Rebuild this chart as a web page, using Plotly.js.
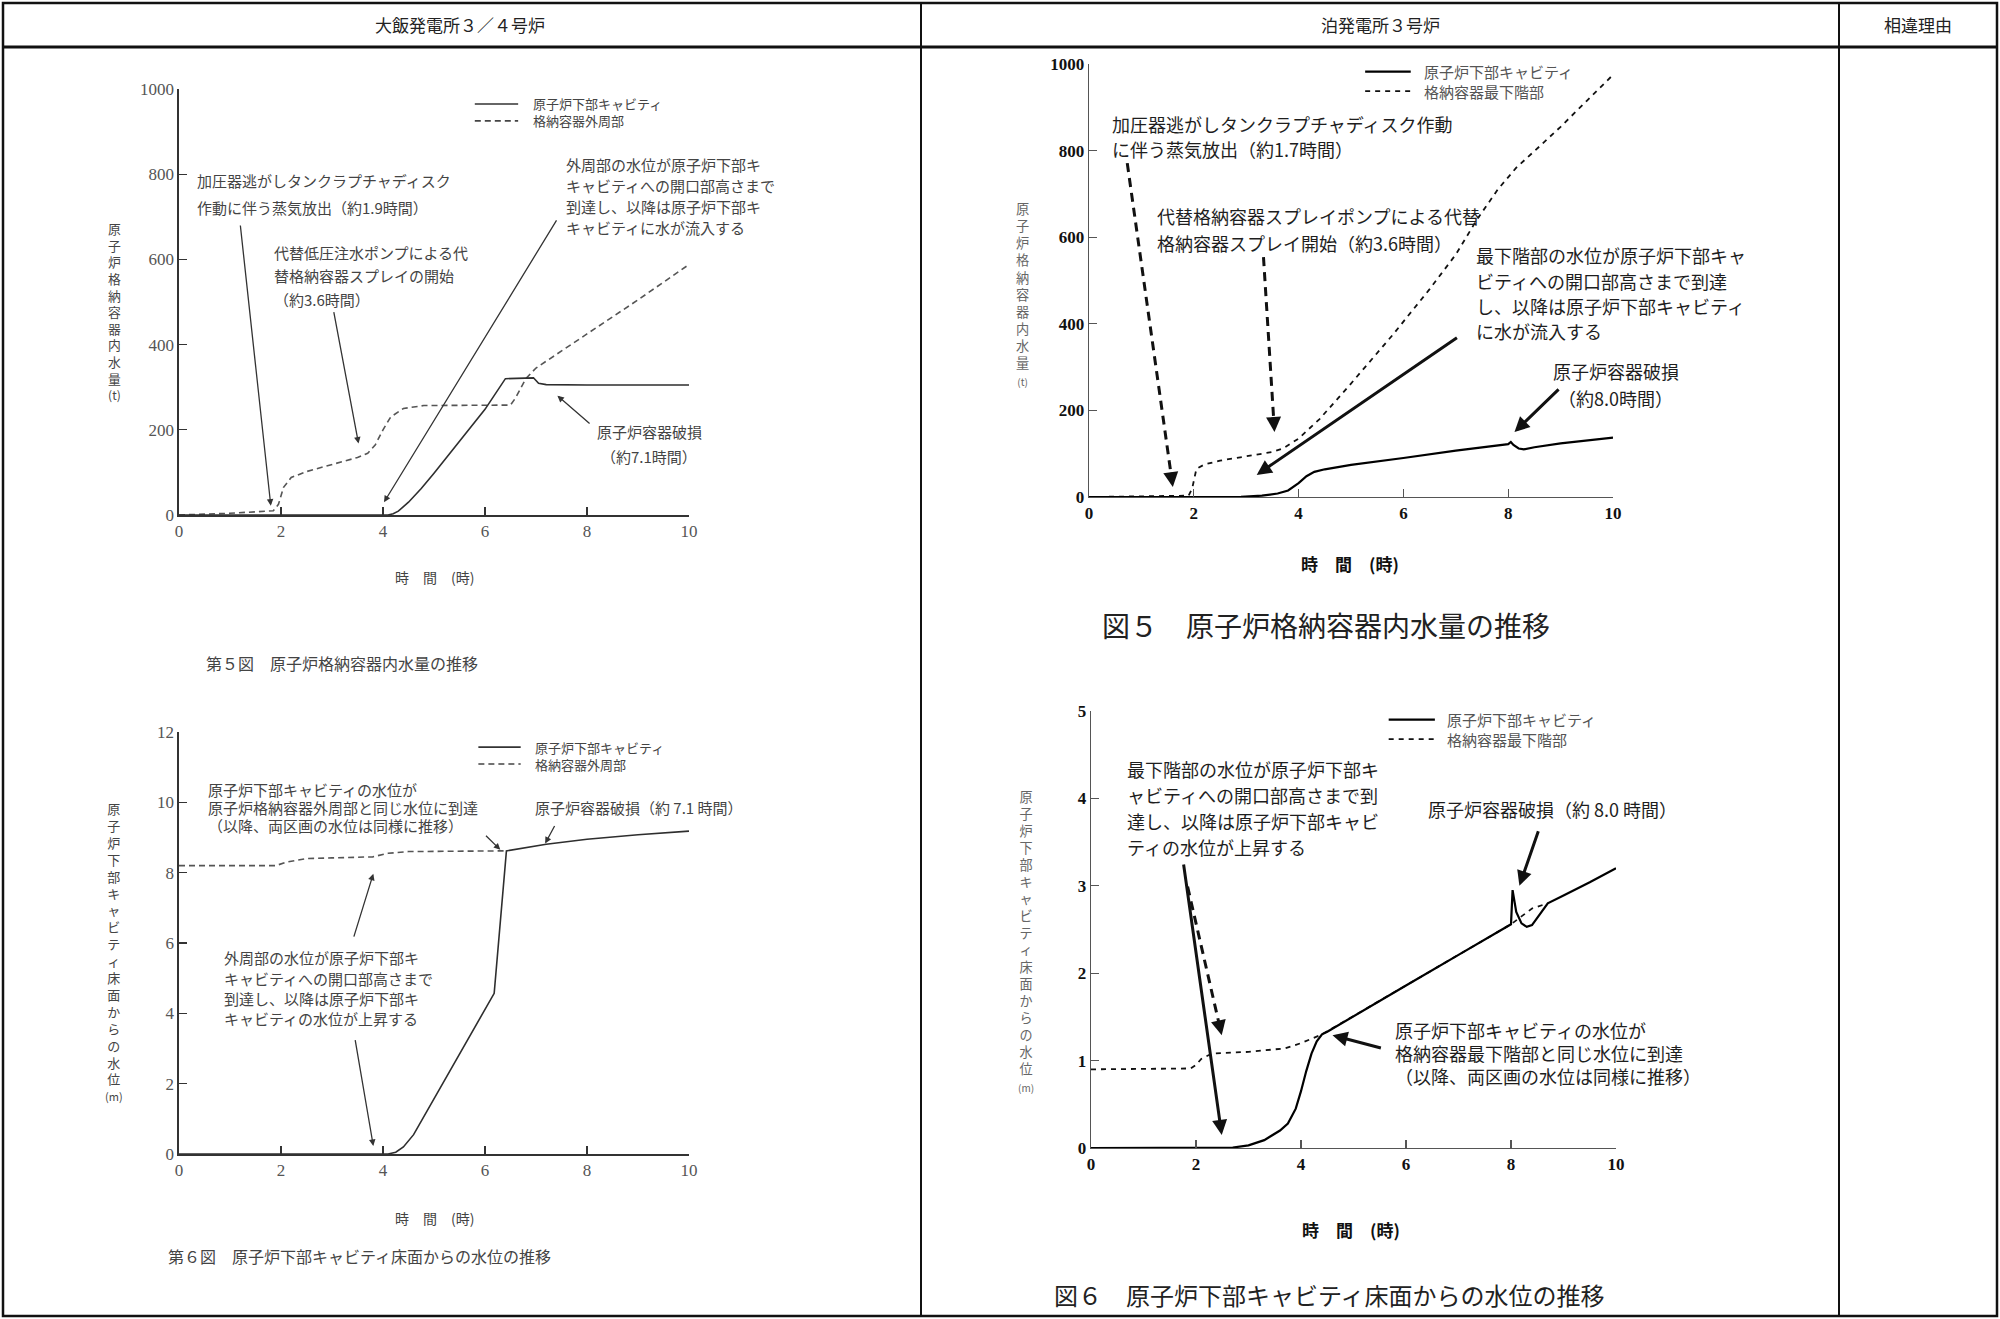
<!DOCTYPE html>
<html><head><meta charset="utf-8">
<script src="https://cdn.plot.ly/plotly-3.0.1.min.js"></script>
<style>html,body{margin:0;padding:0;background:#fff}#chart{width:2000px;height:1319px}</style>
</head><body><div id="chart"></div>
<script>
// ---------------- data ----------------
const xTicks = [0, 2, 4, 6, 8, 10];
const yTicksA = [0, 200, 400, 600, 800, 1000];
const yTicksB = [0, 200, 400, 600, 800, 1000];
const yTicksC = [0, 2, 4, 6, 8, 10, 12];
const yTicksD = [0, 1, 2, 3, 4, 5];

const seriesLeft = ['原子炉下部キャビティ', '格納容器外周部'];
const seriesRight = ['原子炉下部キャビティ', '格納容器最下階部'];

// 第5図 (大飯) 原子炉格納容器内水量 (t)
const tA_cav = [0, 4.1, 4.2, 4.3, 4.5, 4.75, 5.0, 5.5, 6.0, 6.4, 6.95, 7.05, 7.2, 8, 9, 10];
const vA_cav = [0, 0, 3, 9, 30, 62, 98, 172, 248, 320, 322, 309, 306, 305, 305, 305];
const tA_out = [0, 1.0, 1.85, 1.95, 2.05, 2.2, 2.5, 3.0, 3.5, 3.7, 3.85, 4.0, 4.15, 4.4, 4.8, 6.5, 6.6, 6.8, 7.0, 8, 9, 10];
const vA_out = [0, 4, 10, 25, 65, 88, 102, 118, 135, 145, 165, 200, 230, 250, 257, 258, 275, 320, 345, 425, 505, 588];

// 図5 (泊) 原子炉格納容器内水量 (t)
const tB_cav = [0, 2.9, 3.3, 3.6, 3.8, 4.0, 4.15, 4.3, 4.5, 5, 6, 7, 8, 8.05, 8.1, 8.2, 8.3, 8.5, 9, 9.5, 10];
const vB_cav = [0, 0.5, 3, 8, 15, 32, 48, 58, 64, 74, 90, 107, 122, 127, 120, 112, 110, 115, 124, 130, 137];
const tB_low = [0, 1.9, 1.97, 2.05, 2.2, 2.5, 3.0, 3.5, 3.7, 4.0, 4.4, 5.0, 5.8, 6.5, 7.0, 7.4, 7.8, 8.15, 8.6, 9.0, 9.5, 10];
const vB_low = [0, 3, 20, 65, 75, 84, 94, 104, 112, 135, 180, 262, 375, 480, 560, 640, 710, 760, 810, 855, 915, 975];

// 第6図 (大飯) 原子炉下部キャビティ床面からの水位 (m)
const tC_cav = [0, 4.1, 4.25, 4.4, 4.6, 5.0, 5.5, 6.0, 6.18, 6.42, 7.0, 7.2, 8, 9, 10];
const vC_cav = [0, 0, 0.05, 0.2, 0.55, 1.57, 2.84, 4.1, 4.57, 8.62, 8.76, 8.81, 8.95, 9.08, 9.18];
const tC_out = [0, 1.9, 2.1, 2.5, 3.0, 3.8, 4.1, 4.5, 6.42];
const vC_out = [8.2, 8.2, 8.3, 8.4, 8.42, 8.45, 8.55, 8.6, 8.62];

// 図6 (泊) 原子炉下部キャビティ床面からの水位 (m)
const tD_cav = [0, 2.5, 2.7, 3.0, 3.3, 3.6, 3.75, 3.9, 4.0, 4.1, 4.2, 4.3, 4.4, 4.5, 5, 6, 7, 8, 8.03, 8.06, 8.1, 8.2, 8.3, 8.4, 8.55, 8.7, 9, 9.5, 10];
const vD_cav = [0, 0, 0.005, 0.03, 0.09, 0.2, 0.28, 0.45, 0.65, 0.88, 1.08, 1.22, 1.3, 1.33, 1.51, 1.86, 2.21, 2.56, 2.95, 2.85, 2.7, 2.57, 2.53, 2.55, 2.68, 2.8, 2.89, 3.04, 3.2];
const tD_low = [0, 1.9, 2.0, 2.1, 2.3, 3.0, 3.7, 4.0, 4.4, 8.0, 8.2, 8.4, 8.7];
const vD_low = [0.9, 0.91, 0.95, 1.02, 1.08, 1.1, 1.14, 1.2, 1.3, 2.56, 2.65, 2.74, 2.8];

// ---------------- layout helpers ----------------
const W = 2000, H = 1319;
const FONT = '"Noto Sans CJK JP", "Noto Sans", sans-serif';
const SERIF = '"Liberation Serif", "DejaVu Serif", serif';
const PX = x => x / W, PY = y => 1 - y / H;

const dom = {
  A: {x0: 179, x1: 689, y0: 89, y1: 515, ymax: 1000, n: ''},
  B: {x0: 1089, x1: 1613, y0: 64, y1: 497, ymax: 1000, n: '2'},
  C: {x0: 179, x1: 689, y0: 732, y1: 1154, ymax: 12, n: '3'},
  D: {x0: 1091, x1: 1616, y0: 711, y1: 1148, ymax: 5, n: '4'}
};
const xr = k => 'x' + dom[k].n, yr = k => 'y' + dom[k].n;
const sx = k => (dom[k].x1 - dom[k].x0) / 10;
const sy = k => (dom[k].y1 - dom[k].y0) / dom[k].ymax;
// data position of a subplot -> paper position (texts may lie outside the plot area)
const toPX = (k, x) => PX(dom[k].x0 + x * sx(k));
const toPY = (k, y) => PY(dom[k].y1 - y * sy(k));

const LEFT_TXT = '#444', RIGHT_TXT = '#1e1e1e';

function axisPair(k, yt, left) {
  const d = dom[k];
  const common = {
    showline: true, showgrid: false, zeroline: false, ticks: 'inside', ticklen: 8,
    linecolor: left ? '#333' : '#555', linewidth: left ? 1.6 : 1.3,
    tickcolor: left ? '#333' : '#555', tickwidth: left ? 1.4 : 1.2,
    tickfont: left ? {family: SERIF, size: 17, color: '#555'} : {family: SERIF, size: 17, color: '#111', weight: 'bold'},
    fixedrange: true
  };
  const xa = Object.assign({}, common, {domain: [PX(d.x0), PX(d.x1)], range: [0, 10], tickvals: xTicks, anchor: yr(k)});
  const ya = Object.assign({}, common, {domain: [PY(d.y1), PY(d.y0)], range: [0, d.ymax], tickvals: yt, anchor: xr(k)});
  return [xa, ya];
}

function line(k, x, y, solid, left) {
  return {
    x, y, xaxis: xr(k), yaxis: yr(k), mode: 'lines', cliponaxis: false, showlegend: false, hoverinfo: 'skip',
    line: solid
      ? {color: left ? '#2e2e2e' : '#000', width: left ? 1.6 : 2.2}
      : {color: left ? '#555' : '#111', width: left ? 1.6 : 1.8, dash: left ? '6px,4px' : '5px,5px'}
  };
}

const ann = [];
const shapes = [];

function textLines(k, lines, x, yTop, dy, size, color, anchor) {
  lines.forEach((t, i) => ann.push({
    xref: 'paper', yref: 'paper', x: toPX(k, x), y: toPY(k, yTop - i * dy), text: t, showarrow: false,
    xanchor: anchor || 'left', align: anchor || 'left', yanchor: 'middle', font: {family: FONT, size, color}
  }));
}
// upright vertical axis title: one character per line, unit as a smaller last line
function vert(k, str, unit, unitSize, x, yMid, size, color) {
  let t = [...str].join('<br>');
  if (unit) t += '<br><span style="font-size:' + unitSize + 'px">' + unit + '</span>';
  ann.push({
    xref: 'paper', yref: 'paper', x: toPX(k, x), y: toPY(k, yMid), text: t, showarrow: false,
    xanchor: 'center', align: 'center', yanchor: 'middle', font: {family: FONT, size, color}
  });
}
function arrow(k, tail, head, width, color, size) {
  ann.push({
    xref: xr(k), yref: yr(k), axref: xr(k), ayref: yr(k), x: head[0], y: head[1], ax: tail[0], ay: tail[1],
    text: '', showarrow: true, arrowhead: 2, arrowsize: size || 1, arrowwidth: width, arrowcolor: color, standoff: 0, startstandoff: 0
  });
}
function dashedArrow(k, tail, head, width, color) {
  const dxp = (tail[0] - head[0]) * sx(k), dyp = -(tail[1] - head[1]) * sy(k);
  const L = Math.hypot(dxp, dyp), ux = dxp / L, uy = dyp / L;
  const back = 10;
  shapes.push({
    type: 'line', xref: xr(k), yref: yr(k), x0: tail[0], y0: tail[1],
    x1: head[0] + ux * back / sx(k), y1: head[1] - uy * back / sy(k),
    line: {color, width, dash: '9px,6px'}
  });
  ann.push({
    xref: xr(k), yref: yr(k), x: head[0], y: head[1], ax: ux * 16, ay: uy * 16,
    text: '', showarrow: true, arrowhead: 2, arrowsize: 1, arrowwidth: width, arrowcolor: color, standoff: 0
  });
}
// legend: two sample lines + one two-line text block
function legend(k, names, xs, yMid, size, xt, color, left) {
  const g = size * 1.3 / 2 / sy(k);
  shapes.push({type: 'line', xref: xr(k), yref: yr(k), x0: xs[0], x1: xs[1], y0: yMid + g, y1: yMid + g,
    line: {color: left ? '#333' : '#000', width: left ? 1.6 : 2.2}});
  shapes.push({type: 'line', xref: xr(k), yref: yr(k), x0: xs[0], x1: xs[1], y0: yMid - g, y1: yMid - g,
    line: {color: left ? '#444' : '#111', width: left ? 1.6 : 1.8, dash: left ? '6px,4px' : '5px,5px'}});
  textLines(k, [names[0] + '<br>' + names[1]], xt, yMid, 0, size, color);
}
function paperText(text, x, y, size, color, anchor) {
  ann.push({xref: 'paper', yref: 'paper', x: PX(x), y: PY(y), text, showarrow: false,
    xanchor: anchor || 'center', yanchor: 'middle', font: {family: FONT, size, color}});
}

// ---------------- table frame ----------------
shapes.push({type: 'rect', xref: 'paper', yref: 'paper', x0: PX(3), x1: PX(1997), y0: PY(1316), y1: PY(3), line: {color: '#111', width: 2.5}});
shapes.push({type: 'line', xref: 'paper', yref: 'paper', x0: PX(3), x1: PX(1997), y0: PY(47), y1: PY(47), line: {color: '#111', width: 3}});
shapes.push({type: 'line', xref: 'paper', yref: 'paper', x0: PX(921), x1: PX(921), y0: PY(3), y1: PY(1316), line: {color: '#111', width: 2}});
shapes.push({type: 'line', xref: 'paper', yref: 'paper', x0: PX(1839), x1: PX(1839), y0: PY(3), y1: PY(1316), line: {color: '#111', width: 2}});
paperText('大飯発電所３／４号炉', 460, 25, 17, '#222');
paperText('泊発電所３号炉', 1380, 25, 17, '#222');
paperText('相違理由', 1918, 25, 17, '#222');

// ---------------- chart A ----------------
legend('A', seriesLeft, [5.8, 6.65], 945, 13, 6.9, LEFT_TXT, true);
vert('A', '原子炉格納容器内水量', '(t)', 12, -1.27, 478, 12.8, LEFT_TXT);
textLines('A', ['時　間　(時)'], 5, -146, 0, 14, LEFT_TXT, 'center');
textLines('A', ['加圧器逃がしタンクラプチャディスク', '作動に伴う蒸気放出（約1.9時間）'], 0.32, 785, 63, 15, LEFT_TXT);
textLines('A', ['代替低圧注水ポンプによる代', '替格納容器スプレイの開始', '（約3.6時間）'], 1.82, 617, 55, 15, LEFT_TXT);
textLines('A', ['外周部の水位が原子炉下部キ', 'キャビティへの開口部高さまで', '到達し、以降は原子炉下部キ', 'キャビティに水が流入する'], 7.55, 822, 49, 15, LEFT_TXT);
textLines('A', ['原子炉容器破損', '（約7.1時間）'], 9.22, 196, 58, 15, LEFT_TXT, 'center');
arrow('A', [1.2, 683], [1.8, 22], 1.3, '#333');
arrow('A', [3.03, 480], [3.52, 168], 1.3, '#333');
arrow('A', [7.42, 695], [4.02, 30], 1.3, '#333');
arrow('A', [8.08, 212], [7.42, 280], 1.3, '#333');
paperText('第５図　原子炉格納容器内水量の推移', 204, 663, 16, LEFT_TXT, 'left');

// ---------------- chart B ----------------
legend('B', seriesRight, [5.27, 6.14], 960, 15, 6.35, '#555', false);
vert('B', '原子炉格納容器内水量', '(t)', 10, -1.26, 468, 13.2, '#666');
textLines('B', ['<b>時　間　(時)</b>'], 4.98, -153, 0, 17, '#111', 'center');
textLines('B', ['加圧器逃がしタンクラプチャディスク作動', 'に伴う蒸気放出（約1.7時間）'], 0.4, 862, 59, 18, RIGHT_TXT);
textLines('B', ['代替格納容器スプレイポンプによる代替', '格納容器スプレイ開始（約3.6時間）'], 1.25, 648, 61, 18, RIGHT_TXT);
textLines('B', ['最下階部の水位が原子炉下部キャ', 'ビティへの開口部高さまで到達', 'し、以降は原子炉下部キャビティ', 'に水が流入する'], 7.34, 558, 58, 18, RIGHT_TXT);
textLines('B', ['原子炉容器破損', '（約8.0時間）'], 10.05, 291, 62, 18, RIGHT_TXT, 'center');
dashedArrow('B', [0.73, 771], [1.6, 23], 3, '#111');
dashedArrow('B', [3.33, 554], [3.54, 150], 3, '#111');
arrow('B', [7.05, 370], [3.2, 51], 3, '#111');
arrow('B', [8.99, 252], [8.12, 150], 3, '#111');
paperText('図５　原子炉格納容器内水量の推移', 1100, 625, 28, '#222', 'left');

// ---------------- chart C ----------------
legend('C', seriesLeft, [5.87, 6.7], 11.33, 13, 6.94, LEFT_TXT, true);
vert('C', '原子炉下部キャビティ床面からの水位', '(m)', 11, -1.27, 5.77, 13, LEFT_TXT);
textLines('C', ['時　間　(時)'], 5, -1.82, 0, 14, LEFT_TXT, 'center');
textLines('C', ['原子炉下部キャビティの水位が', '原子炉格納容器外周部と同じ水位に到達', '（以降、両区画の水位は同様に推移）'], 0.52, 10.36, 0.515, 15, LEFT_TXT);
textLines('C', ['原子炉容器破損（約 7.1 時間）'], 6.94, 9.84, 0, 15, LEFT_TXT);
textLines('C', ['外周部の水位が原子炉下部キ', 'キャビティへの開口部高さまで', '到達し、以降は原子炉下部キ', 'キャビティの水位が上昇する'], 0.84, 5.58, 0.58, 15, LEFT_TXT);
arrow('C', [5.99, 9.09], [6.3, 8.65], 1.3, '#333');
arrow('C', [7.38, 9.37], [7.18, 8.83], 1.3, '#333');
arrow('C', [3.42, 6.14], [3.81, 7.97], 1.3, '#333');
arrow('C', [3.45, 3.28], [3.81, 0.23], 1.3, '#333');
paperText('第６図　原子炉下部キャビティ床面からの水位の推移', 166, 1256, 16, LEFT_TXT, 'left');

// ---------------- chart D ----------------
legend('D', seriesRight, [5.67, 6.55], 4.79, 15, 6.75, '#555', false);
vert('D', '原子炉下部キャビティ床面からの水位', '(m)', 10, -1.24, 2.37, 13.1, '#666');
textLines('D', ['<b>時　間　(時)</b>'], 4.95, -0.93, 0, 17, '#111', 'center');
textLines('D', ['最下階部の水位が原子炉下部キ', 'ャビティへの開口部高さまで到', '達し、以降は原子炉下部キャビ', 'ティの水位が上昇する'], 0.65, 4.34, 0.297, 18, RIGHT_TXT);
textLines('D', ['原子炉容器破損（約 8.0 時間）'], 6.38, 3.88, 0, 18, RIGHT_TXT);
textLines('D', ['原子炉下部キャビティの水位が', '格納容器最下階部と同じ水位に到達', '（以降、両区画の水位は同様に推移）'], 5.76, 1.35, 0.265, 18, RIGHT_TXT);
arrow('D', [1.76, 3.26], [2.49, 0.15], 3, '#111');
dashedArrow('D', [1.84, 2.99], [2.49, 1.29], 3, '#111');
arrow('D', [8.53, 3.64], [8.16, 3.0], 3, '#111');
arrow('D', [5.55, 1.14], [4.6, 1.29], 3, '#111');
paperText('図６　原子炉下部キャビティ床面からの水位の推移', 1052, 1294, 24, '#222', 'left');

// ---------------- figure ----------------
const [xA, yA] = axisPair('A', yTicksA, true);
const [xB, yB] = axisPair('B', yTicksB, false);
const [xC, yC] = axisPair('C', yTicksC, true);
const [xD, yD] = axisPair('D', yTicksD, false);

const data = [
  line('A', tA_out, vA_out, false, true), line('A', tA_cav, vA_cav, true, true),
  line('B', tB_low, vB_low, false, false), line('B', tB_cav, vB_cav, true, false),
  line('C', tC_out, vC_out, false, true), line('C', tC_cav, vC_cav, true, true),
  line('D', tD_low, vD_low, false, false), line('D', tD_cav, vD_cav, true, false)
];

const layout = {
  width: W, height: H, margin: {l: 0, r: 0, t: 0, b: 0},
  paper_bgcolor: '#fff', plot_bgcolor: 'rgba(0,0,0,0)', showlegend: false,
  font: {family: FONT},
  xaxis: xA, yaxis: yA, xaxis2: xB, yaxis2: yB, xaxis3: xC, yaxis3: yC, xaxis4: xD, yaxis4: yD,
  shapes, annotations: ann
};
Plotly.newPlot('chart', data, layout, {displayModeBar: false, staticPlot: true});
</script>
</body></html>
